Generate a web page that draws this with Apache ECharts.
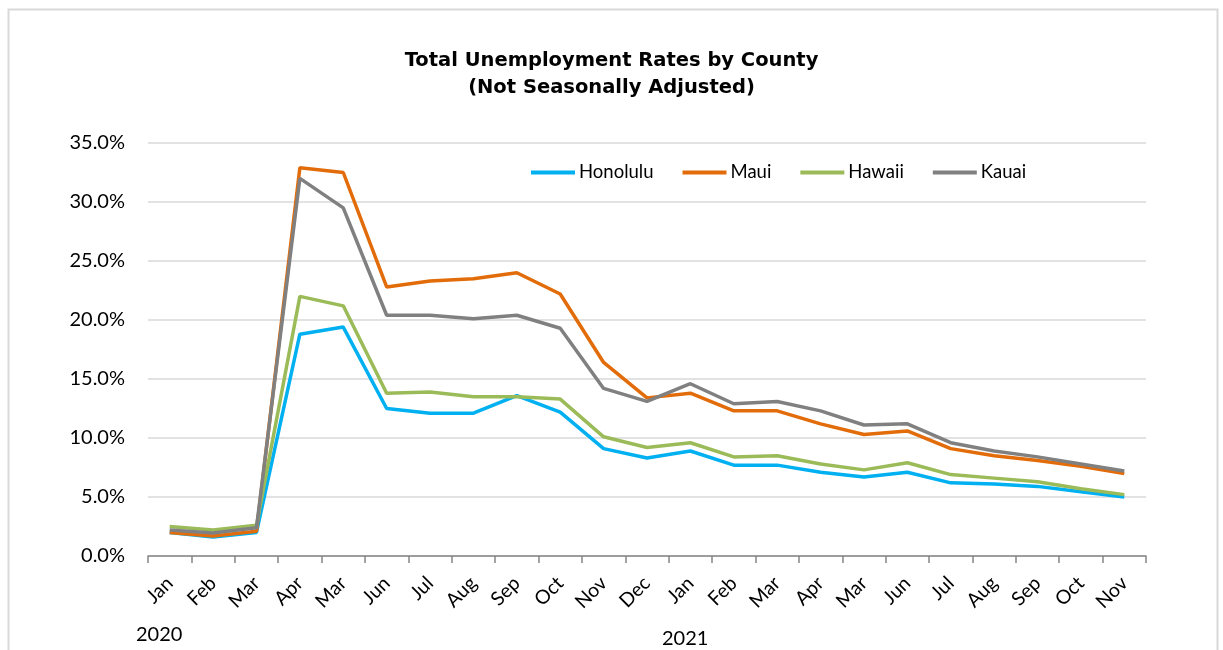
<!DOCTYPE html>
<html>
<head>
<meta charset="utf-8">
<script src="https://cdn.jsdelivr.net/npm/echarts@6/dist/echarts.min.js"></script>
<style>html,body{margin:0;padding:0;background:#fff}#c{width:1223px;height:650px}</style>
</head>
<body>
<div id="c"></div>
<script>
var categories = ['Jan','Feb','Mar','Apr','Mar','Jun','Jul','Aug','Sep','Oct','Nov','Dec','Jan','Feb','Mar','Apr','Mar','Jun','Jul','Aug','Sep','Oct','Nov'];
var honolulu = [2.0,1.6,2.0,18.8,19.4,12.5,12.1,12.1,13.6,12.2,9.1,8.3,8.9,7.7,7.7,7.1,6.7,7.1,6.2,6.1,5.9,5.45,5.0];
var maui     = [2.0,1.7,2.1,32.9,32.5,22.8,23.3,23.5,24.0,22.2,16.4,13.4,13.8,12.3,12.3,11.2,10.3,10.6,9.1,8.5,8.1,7.6,7.0];
var hawaii   = [2.5,2.2,2.6,22.0,21.2,13.8,13.9,13.5,13.5,13.3,10.1,9.2,9.6,8.4,8.5,7.8,7.3,7.9,6.9,6.6,6.3,5.7,5.2];
var kauai    = [2.2,1.95,2.4,32.0,29.5,20.4,20.4,20.1,20.4,19.3,14.2,13.1,14.6,12.9,13.1,12.3,11.1,11.2,9.6,8.9,8.4,7.8,7.2];
var yearLabels = ['2020','2021'];
var names = ['Honolulu','Maui','Hawaii','Kauai'];
var colors = ['#00b0f0','#e36c0a','#9bbb59','#808080'];

var chart = echarts.init(document.getElementById('c'), null, {renderer:'canvas'});
var seriesData = [honolulu, maui, hawaii, kauai];
var font = 'Lato, "Open Sans", sans-serif';
chart.setOption({
  backgroundColor:'#fff',
  animation:false,
  title:{
    text:'Total Unemployment Rates by County\n(Not Seasonally Adjusted)',
    left:'center', top:42,
    textStyle:{fontFamily:'"DejaVu Sans", "Liberation Sans", sans-serif', fontWeight:'bold', fontSize:19.5, lineHeight:27, color:'#000'}
  },
  legend:{
    data:names, left:526, top:158, itemWidth:44, itemHeight:4, itemGap:29,
    icon:'rect',
    textStyle:{fontFamily:font, fontSize:18.5, color:'#000', padding:[0,0,0,-1]}
  },
  grid:{left:148, right:77, top:143, bottom:94, containLabel:false},
  xAxis:{
    type:'category', data:categories, boundaryGap:true,
    axisLine:{lineStyle:{color:'#868686', width:1.5}},
    axisTick:{show:true, length:7, alignWithLabel:false, interval:0, lineStyle:{color:'#868686', width:1.5}},
    axisLabel:{interval:0, rotate:45, fontFamily:font, fontSize:19.5, color:'#000', margin:24}
  },
  yAxis:{
    type:'value', min:0, max:35, interval:5,
    axisLine:{show:false}, axisTick:{show:false},
    splitLine:{lineStyle:{color:'#d9d9d9', width:1.5}},
    axisLabel:{formatter:function(v){return v.toFixed(1)+'%';}, fontFamily:font, fontSize:20, color:'#000', margin:23}
  },
  series: names.map(function(n,i){
    return {name:n, type:'line', data:seriesData[i], symbol:'none', color:colors[i],
      lineStyle:{width:3.5, color:colors[i]}};
  }),
  graphic:[
    {type:'rect', shape:{x:8.5,y:9.5,width:1209,height:650}, style:{fill:'none', stroke:'#d9d9d9', lineWidth:2}, silent:true},
    {type:'text', left:136, top:625, style:{text:yearLabels[0], fontFamily:font, fontSize:20, fill:'#000'}},
    {type:'text', left:662, top:629, style:{text:yearLabels[1], fontFamily:font, fontSize:20, fill:'#000'}}
  ]
});
</script>
</body>
</html>
